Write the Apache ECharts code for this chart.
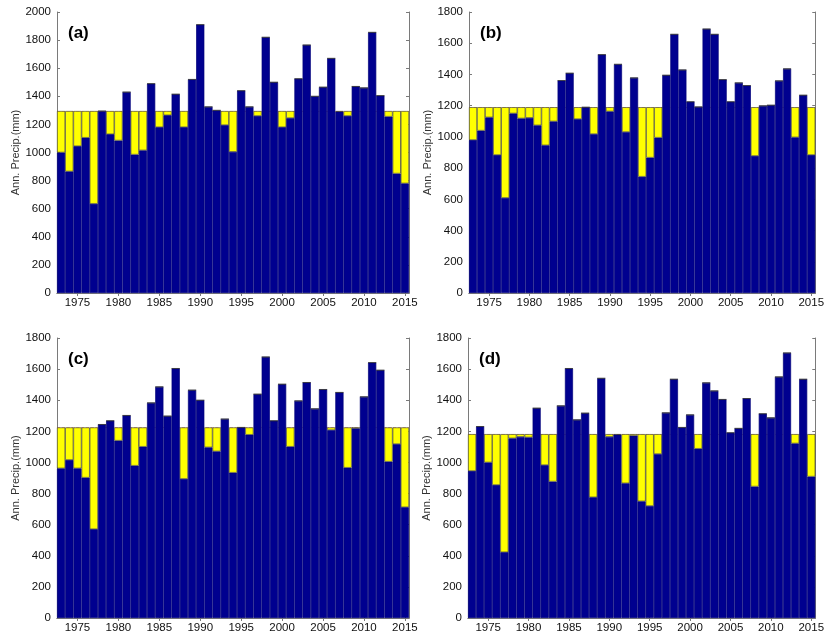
<!DOCTYPE html>
<html>
<head>
<meta charset="utf-8">
<script src="https://cdn.jsdelivr.net/npm/echarts@6/dist/echarts.min.js"></script>
<style>html,body{margin:0;padding:0;background:#fff}#c{width:827px;height:638px}</style>
</head>
<body>
<div id="c"></div>
<script>
const years = [1973,1974,1975,1976,1977,1978,1979,1980,1981,1982,1983,1984,1985,1986,1987,1988,1989,1990,1991,1992,1993,1994,1995,1996,1997,1998,1999,2000,2001,2002,2003,2004,2005,2006,2007,2008,2009,2010,2011,2012,2013,2014,2015];
const panelA = [1000,865,1045,1105,635,1295,1130,1085,1430,985,1015,1490,1180,1265,1415,1180,1520,1910,1325,1300,1195,1005,1440,1325,1260,1820,1500,1180,1245,1525,1765,1400,1465,1670,1290,1260,1470,1460,1855,1405,1255,850,780];
const panelB = [980,1040,1125,884,609,1150,1118,1122,1074,946,1099,1361,1408,1114,1190,1018,1527,1163,1465,1031,1378,745,867,995,1395,1657,1429,1225,1192,1691,1657,1367,1225,1346,1329,878,1199,1203,1359,1436,997,1267,884];
const panelC = [962,1016,962,902,571,1244,1268,1140,1302,979,1101,1383,1486,1298,1604,894,1465,1400,1097,1071,1279,934,1225,1178,1439,1678,1268,1503,1101,1396,1514,1345,1469,1208,1450,966,1219,1422,1642,1593,1005,1118,712];
const panelD = [945,1231,1000,855,423,1155,1165,1161,1349,983,877,1364,1604,1274,1317,776,1541,1165,1178,866,1172,750,720,1054,1319,1535,1225,1306,1088,1512,1460,1405,1191,1219,1411,845,1313,1287,1550,1704,1122,1535,909];
const means = [1295, 1190, 1225, 1182];
const yMax = [2000, 1800, 1800, 1800];
const labels = ['(a)', '(b)', '(c)', '(d)'];
const panels = [panelA, panelB, panelC, panelD];

const grids = [
  {left: 57, top: 12, width: 352, height: 281},
  {left: 469, top: 12, width: 350, height: 281},
  {left: 57, top: 338, width: 352, height: 280},
  {left: 468, top: 338, width: 351, height: 280}
];

const BLUE = '#00008f';
const YELLOW = '#ffff00';
const AXIS = '#7a7a7a';
const FONT = 'Liberation Sans, Arial, sans-serif';
const tickYear = (i) => years[i] % 5 === 0;

const xAxis = [], yAxis = [], series = [], title = [];
grids.forEach((g, k) => {
  xAxis.push({
    type: 'category', gridIndex: k, data: years, position: 'bottom',
    boundaryGap: true,
    axisLine: {show: true, lineStyle: {color: AXIS, width: 1}},
    axisTick: {show: true, inside: true, length: 3, alignWithLabel: true, interval: tickYear, lineStyle: {color: AXIS}},
    axisLabel: {show: true, interval: tickYear, margin: 4, fontSize: 11.5, color: '#111', fontFamily: FONT},
    splitLine: {show: false}
  });
  xAxis.push({
    type: 'category', gridIndex: k, data: years, position: 'top',
    boundaryGap: true,
    axisLine: {show: true, lineStyle: {color: AXIS, width: 1}},
    axisTick: {show: true, inside: true, length: 3, alignWithLabel: true, interval: tickYear, lineStyle: {color: AXIS}},
    axisLabel: {show: false},
    splitLine: {show: false}
  });
  yAxis.push({
    type: 'value', gridIndex: k, min: 0, max: yMax[k], interval: 200, position: 'left',
    name: 'Ann. Precip.(mm)', nameLocation: 'middle', nameGap: 36, nameRotate: 90,
    nameTextStyle: {fontSize: 11, color: '#333', fontFamily: FONT},
    axisLine: {show: true, lineStyle: {color: AXIS, width: 1}},
    axisTick: {show: true, inside: true, length: 3, lineStyle: {color: AXIS}},
    axisLabel: {margin: 6, fontSize: 11.5, color: '#111', fontFamily: FONT, formatter: (v) => String(v)},
    splitLine: {show: false}
  });
  yAxis.push({
    type: 'value', gridIndex: k, min: 0, max: yMax[k], interval: 200, position: 'right',
    axisLine: {show: true, lineStyle: {color: AXIS, width: 1}},
    axisTick: {show: true, inside: true, length: 3, lineStyle: {color: AXIS}},
    axisLabel: {show: false},
    splitLine: {show: false}
  });
  const vals = panels[k];
  const deficit = vals.map(v => Math.max(0, means[k] - v));
  series.push({
    type: 'bar', xAxisIndex: 2 * k, yAxisIndex: 2 * k, stack: 'p' + k,
    data: vals, barWidth: '100%', barCategoryGap: '0%',
    itemStyle: {color: BLUE, borderColor: '#00007a', borderWidth: 0.7},
    silent: true, z: 2,
    markLine: {
      silent: true, symbol: 'none', label: {show: false}, z: 1,
      lineStyle: {color: '#c85050', type: 'dashed', width: 0.8, opacity: 0.6},
      data: [{yAxis: means[k]}]
    }
  });
  series.push({
    type: 'bar', xAxisIndex: 2 * k, yAxisIndex: 2 * k, stack: 'p' + k,
    data: deficit, barWidth: '100%', barCategoryGap: '0%',
    itemStyle: {color: YELLOW, borderColor: '#333', borderWidth: 0.6},
    silent: true, z: 2
  });
  title.push({
    text: labels[k], left: g.left + 6, top: g.top + 8,
    textStyle: {fontSize: 17, fontWeight: 'bold', color: '#000', fontFamily: FONT}
  });
});

const chart = echarts.init(document.getElementById('c'), null, {renderer: 'canvas'});
chart.setOption({
  animation: false,
  backgroundColor: '#fff',
  title: title,
  grid: grids,
  xAxis: xAxis,
  yAxis: yAxis,
  series: series
});
</script>
</body>
</html>
